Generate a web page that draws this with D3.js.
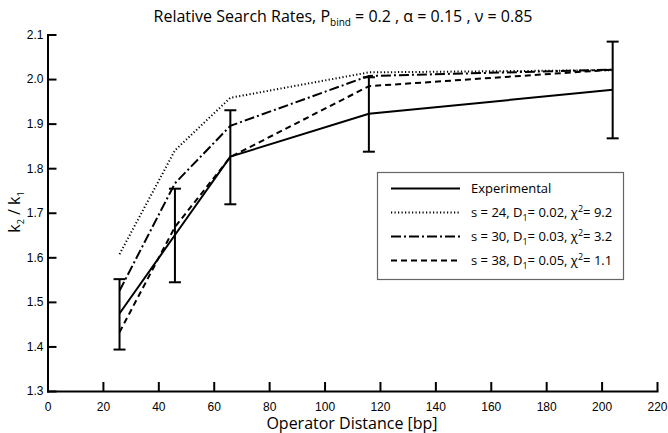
<!DOCTYPE html>
<meta charset="utf-8">
<style>
body { margin: 0; background: #fff; }
svg { font-family: "Open Sans", "Noto Sans", sans-serif; }
.axis path, .axis line { stroke: #000; stroke-width: 2px; }
.axis text { font-size: 12px; fill: #000; }
.series { fill: none; stroke: #000; stroke-width: 2px; }
.err { stroke: #000; stroke-width: 2px; }
</style>
<svg width="668" height="433"></svg>
<script src="https://d3js.org/d3.v7.min.js"></script>
<script>

var svg = d3.select("svg");

// operator distances (bp)
var distance = [26, 46, 66, 116, 204];

// measured k2/k1 and its error bar ends
var experimental = [1.474, 1.650, 1.826, 1.922, 1.976];
var errLow  = [1.393, 1.544, 1.719, 1.837, 1.867];
var errHigh = [1.551, 1.754, 1.930, 2.004, 2.084];

// model curves
var fitS24 = [1.607, 1.840, 1.958, 2.015, 2.020];
var fitS30 = [1.525, 1.766, 1.895, 2.007, 2.021];
var fitS38 = [1.432, 1.668, 1.825, 1.984, 2.021];

var xTicks = [0, 20, 40, 60, 80, 100, 120, 140, 160, 180, 200, 220];
var yTicks = [1.3, 1.4, 1.5, 1.6, 1.7, 1.8, 1.9, 2.0, 2.1];

var x = d3.scaleLinear().domain([0, 220]).range([47.5, 657]);
var y = d3.scaleLinear().domain([1.3, 2.1]).range([391, 34.5]);

var series = [
  {name: "Experimental", values: experimental, dash: null, sub: null},
  {name: "s = 24, D", values: fitS24, dash: "1.2,2.3", d: "0.02", chi: "9.2"},
  {name: "s = 30, D", values: fitS30, dash: "10,3,2,3", d: "0.03", chi: "3.2"},
  {name: "s = 38, D", values: fitS38, dash: "6,4", d: "0.05", chi: "1.1"}
];

// axes
svg.append("g")
    .attr("class", "axis")
    .attr("transform", "translate(0,391)")
    .call(d3.axisBottom(x).tickValues(xTicks).tickSizeInner(-9).tickSizeOuter(0).tickPadding(11)
      .tickFormat(d3.format("d")));

svg.append("g")
    .attr("class", "axis")
    .attr("transform", "translate(47.5,0)")
    .call(d3.axisLeft(y).tickValues(yTicks).tickSizeInner(-9).tickSizeOuter(0).tickPadding(4)
      .tickFormat(d3.format(".1f")));

svg.selectAll(".axis .domain").attr("stroke-linecap", "square");

// error bars
var bars = svg.append("g");
distance.forEach(function(dx, i) {
  bars.append("line").attr("class", "err")
      .attr("x1", x(dx)).attr("x2", x(dx))
      .attr("y1", y(errLow[i])).attr("y2", y(errHigh[i]));
  [errLow[i], errHigh[i]].forEach(function(v) {
    bars.append("line").attr("class", "err")
        .attr("x1", x(dx) - 6).attr("x2", x(dx) + 6)
        .attr("y1", y(v)).attr("y2", y(v));
  });
});

var line = d3.line()
    .x(function(d, i) { return x(distance[i]); })
    .y(function(d) { return y(d); });

svg.selectAll(".series")
  .data(series)
  .enter().append("path")
    .attr("class", "series")
    .attr("d", function(s) { return line(s.values); })
    .attr("stroke-dasharray", function(s) { return s.dash; });

// legend
var legend = svg.append("g");
legend.append("rect")
    .attr("x", 377.5).attr("y", 172.5)
    .attr("width", 246).attr("height", 107)
    .attr("fill", "#fff").attr("stroke", "#666").attr("stroke-width", 1.2);

series.forEach(function(s, i) {
  var ly = 188.5 + i * 24;
  legend.append("line")
      .attr("x1", 391).attr("x2", 460)
      .attr("y1", ly).attr("y2", ly)
      .attr("stroke", "#000").attr("stroke-width", 2)
      .attr("stroke-dasharray", s.dash);
  var t = legend.append("text")
      .attr("x", 471).attr("y", ly + 4.5)
      .attr("font-size", 13);
  t.append("tspan").text(s.name);
  if (s.d) {
    t.append("tspan").attr("font-size", 9).attr("dy", 4).text("1");
    t.append("tspan").attr("dy", -4).text("= " + s.d + ", \u03C7");
    t.append("tspan").attr("font-size", 9).attr("dy", -5).text("2");
    t.append("tspan").attr("dy", 5).text("= " + s.chi);
  }
});

// title
var title = svg.append("text")
    .attr("x", 343).attr("y", 22)
    .attr("text-anchor", "middle")
    .attr("font-size", 16);
title.append("tspan").text("Relative Search Rates, P");
title.append("tspan").attr("font-size", 10).attr("dy", 4).text("bind");
title.append("tspan").attr("dy", -4).text(" = 0.2 , \u03B1 = 0.15 , \u03BD = 0.85");

// axis labels
svg.append("text")
    .attr("x", 352).attr("y", 429)
    .attr("text-anchor", "middle")
    .attr("font-size", 16)
    .text("Operator Distance [bp]");

var yl = svg.append("text")
    .attr("transform", "translate(20,212) rotate(-90)")
    .attr("text-anchor", "middle")
    .attr("font-size", 16);
yl.append("tspan").text("k");
yl.append("tspan").attr("font-size", 9).attr("dy", 4).text("2");
yl.append("tspan").attr("dy", -4).text(" / k");
yl.append("tspan").attr("font-size", 9).attr("dy", 4).text("1");

</script>
